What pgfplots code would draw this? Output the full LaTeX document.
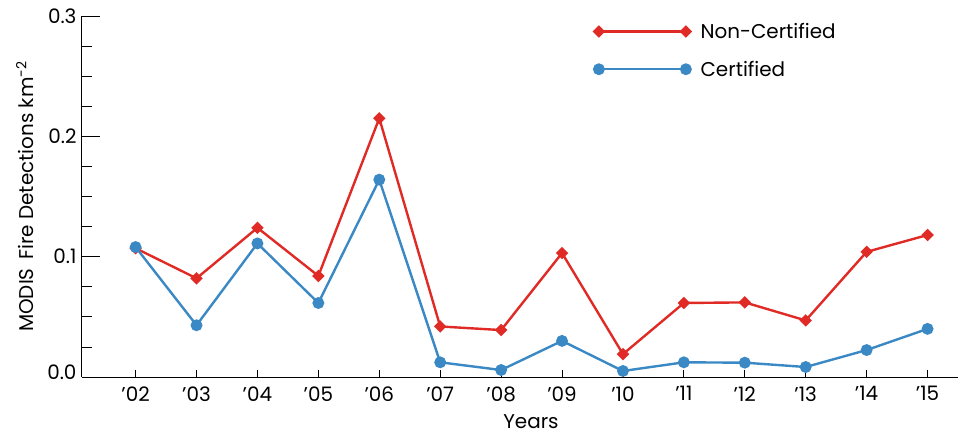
\documentclass[border=0pt]{standalone}
\usepackage{fontspec}
\setmainfont{Poppins}
\usepackage{pgfplots}
\pgfplotsset{compat=1.18}
\definecolor{cred}{RGB}{224,42,38}
\definecolor{cblue}{RGB}{58,136,196}
\begin{document}
\begin{tikzpicture}[font=\fontsize{20}{24}\selectfont]
\begin{axis}[
  at={(0,0)}, anchor=origin,
  scale only axis, width=876bp, height=361bp,
  xmin=1.12, xmax=15.5, ymin=0, ymax=0.3,
  axis x line*=bottom, axis y line*=left,
  axis line style={line width=1bp, black},
  tick align=inside,
  xtick={2,...,15},
  xticklabels={’02,’03,’04,’05,’06,’07,’08,’09,’10,’11,’12,’13,’14,’15},
  ytick={0,0.1,0.2,0.3},
  yticklabels={\raisebox{9bp}{0.0},0.1,0.2,\raisebox{-5bp}{0.3}},
  minor ytick={0.025,0.05,0.075,0.125,0.15,0.175,0.225,0.25,0.275},
  yticklabel style={font=\fontsize{20}{24}\selectfont, xshift=-2bp},
  xticklabel style={font=\fontsize{20}{24}\selectfont, yshift=-6bp},
  xtick style={/pgfplots/major tick length=7bp, line width=0.8bp, black},
  ytick style={/pgfplots/major tick length=18bp, line width=0.8bp, black},
  minor tick length=10bp,
  minor tick style={line width=0.8bp, black},
  xlabel={Years},
  xlabel style={font=\fontsize{20}{24}\selectfont, at={(axis description cs:0.5,0)}, anchor=center, yshift=-45bp, xshift=11bp},
  ylabel={MODIS\, Fire Detections km\textsuperscript{-2}},
  ylabel style={font=\fontsize{20}{24}\selectfont, at={(axis description cs:0,0.5)}, anchor=center, yshift=57bp},
  legend style={draw=none, fill=none, at={(509bp,358bp)}, anchor=north west,
    row sep=17bp, font=\fontsize{20}{24}\selectfont,
    /tikz/every odd column/.append style={column sep=8bp}},
  legend cell align=left,
  legend image code/.code={\draw[mark repeat=1] plot coordinates {(0bp,0bp)(87bp,0bp)};},
]
\addplot[cred, line width=2.4bp, mark=square*, mark size=3.2bp, mark options={solid, rotate=45}] coordinates {
(2,0.107)(3,0.082)(4,0.124)(5,0.084)(6,0.215)(7,0.042)(8,0.039)(9,0.103)(10,0.019)(11,0.0615)(12,0.062)(13,0.047)(14,0.104)(15,0.118)};
\addlegendentry{Non-Certified}
\addplot[cblue, line width=2.4bp, mark=*, mark size=4.7bp] coordinates {
(2,0.108)(3,0.043)(4,0.111)(5,0.0615)(6,0.164)(7,0.0122)(8,0.0058)(9,0.030)(10,0.005)(11,0.0122)(12,0.0119)(13,0.0083)(14,0.0224)(15,0.040)};
\addlegendentry{Certified}
\end{axis}
\pgfresetboundingbox
\path[use as bounding box] (-82bp,-60bp) rectangle (878bp,377bp);
\end{tikzpicture}
\end{document}
